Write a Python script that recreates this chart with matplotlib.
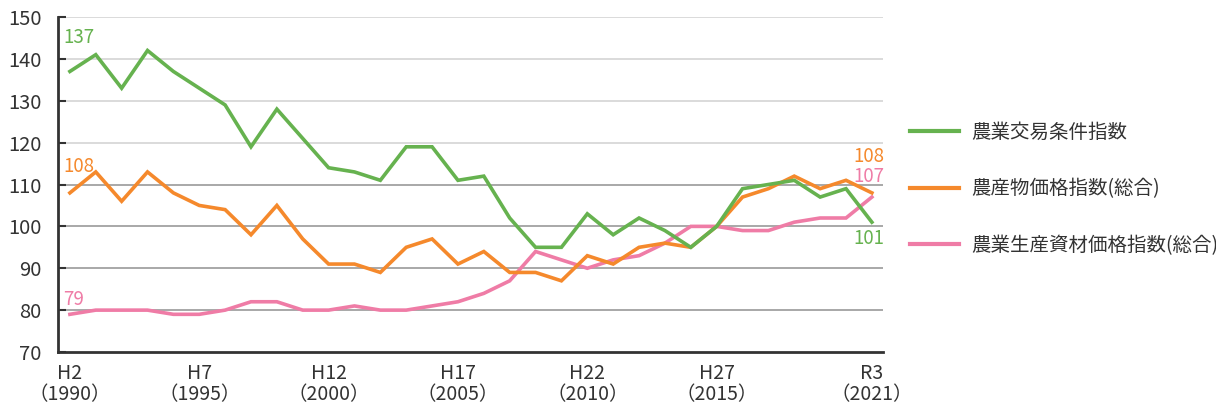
import matplotlib
matplotlib.use("Agg")
import matplotlib.pyplot as plt
from matplotlib.lines import Line2D

plt.rcParams['font.family'] = ['Noto Sans CJK JP', 'DejaVu Sans']

years = list(range(1990, 2022))
terms_of_trade = [137, 141, 133, 142, 137, 133, 129, 119, 128, 121,
                  114, 113, 111, 119, 119, 111, 112, 102, 95, 95,
                  103, 98, 102, 99, 95, 100, 109, 110, 111, 107,
                  109, 101]
product_price = [108, 113, 106, 113, 108, 105, 104, 98, 105, 97,
                 91, 91, 89, 95, 97, 91, 94, 89, 89, 87,
                 93, 91, 95, 96, 95, 100, 107, 109, 112, 109,
                 111, 108]
input_price = [79, 80, 80, 80, 79, 79, 80, 82, 82, 80,
               80, 81, 80, 80, 81, 82, 84, 87, 94, 92,
               90, 92, 93, 96, 100, 100, 99, 99, 101, 102,
               102, 107]
series_names = ['農業交易条件指数', '農産物価格指数(総合)', '農業生産資材価格指数(総合)']
tick_years = [1990, 1995, 2000, 2005, 2010, 2015, 2021]
tick_labels = ['H2\n（1990）', 'H7\n（1995）', 'H12\n（2000）', 'H17\n（2005）',
               'H22\n（2010）', 'H27\n（2015）', 'R3\n（2021）']
y_ticks = [70, 80, 90, 100, 110, 120, 130, 140, 150]

GREEN = '#66b24f'
ORANGE = '#f5892c'
PINK = '#ef7ca6'
TXT = '#333333'

fig = plt.figure(figsize=(12.16, 4.08), dpi=100)
ax = fig.add_axes([58/1216, 1 - 352/408, (883 - 58)/1216, (352 - 17)/408])

ax.set_xlim(1989.54, 2021.43)
ax.set_ylim(70, 150)

for v in y_ticks[1:]:
    col = '#d4d4d4' if v >= 120 else '#9a9a9a'
    ax.axhline(v, color=col, lw=1.2, zorder=1)

series = [terms_of_trade, product_price, input_price]
colors = [GREEN, ORANGE, PINK]
for vals, c in zip(series[::-1], colors[::-1]):
    ax.plot(years, vals, color=c, lw=2.6, zorder=3, solid_joinstyle='miter')

ax.set_yticks(y_ticks)
ax.set_yticklabels([str(v) for v in y_ticks], fontsize=14.5, color=TXT)
ax.tick_params(axis='y', direction='in', length=6, width=1.5, color='#333333', pad=12)
ax.set_xticks(tick_years)
ax.set_xticklabels(tick_labels, fontsize=14, color=TXT, linespacing=1.0)
ax.tick_params(axis='x', length=0, pad=8)

for s in ['top', 'right']:
    ax.spines[s].set_visible(False)
for s in ['left', 'bottom']:
    ax.spines[s].set_color('#333333')
    ax.spines[s].set_linewidth(2)

# value annotations
ax.text(1989.75, terms_of_trade[0] + 8.0, str(terms_of_trade[0]), color=GREEN, fontsize=13.5, va='center', ha='left')
ax.text(1989.75, product_price[0] + 6.2, str(product_price[0]), color=ORANGE, fontsize=13.5, va='center', ha='left')
ax.text(1989.75, input_price[0] + 3.6, str(input_price[0]), color=PINK, fontsize=13.5, va='center', ha='left')
ax.text(2021.5, product_price[-1] + 8.8, str(product_price[-1]), color=ORANGE, fontsize=13.5, va='center', ha='right')
ax.text(2021.5, input_price[-1] + 5.0, str(input_price[-1]), color=PINK, fontsize=13.5, va='center', ha='right')
ax.text(2021.5, terms_of_trade[-1] - 4.0, str(terms_of_trade[-1]), color=GREEN, fontsize=13.5, va='center', ha='right')

handles = [Line2D([0], [0], color=c, lw=3) for c in colors]
leg = fig.legend(handles, series_names, loc='upper left',
                 bbox_to_anchor=(910/1216, 1 - 122/408), frameon=False,
                 fontsize=14, handlelength=2.5, handletextpad=0.65,
                 labelspacing=1.83, borderaxespad=0, borderpad=0)
for t in leg.get_texts():
    t.set_color(TXT)

fig.savefig('out.png', dpi=100)
